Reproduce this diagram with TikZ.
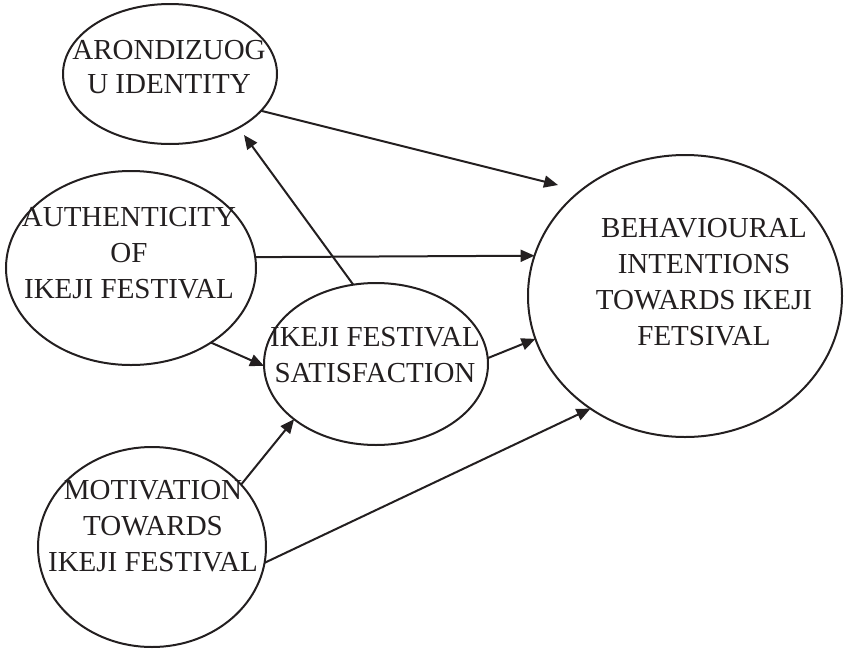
\documentclass[tikz,border=0pt]{standalone}
\usepackage{fontspec}
\setmainfont{Liberation Serif}
\usetikzlibrary{arrows.meta,shapes.geometric}
\definecolor{ink}{RGB}{35,31,32}
\begin{document}
\begin{tikzpicture}[x=1pt,y=-1pt,
  oval/.style={draw=ink, line width=2pt, ellipse, inner sep=0pt, outer sep=0pt},
  lbl/.style={text=ink, align=center, inner sep=0pt, font=\fontsize{29}{36}\selectfont},
  arr/.style={draw=ink, line width=2pt, -{Triangle[length=14pt,width=12pt]}}]
\useasboundingbox (0,0) rectangle (846,648);
% ellipses
\node[oval, minimum width=214pt, minimum height=140pt] (aro) at (170,74) {};
\node[oval, minimum width=250pt, minimum height=194pt] (auth) at (131,268) {};
\node[oval, minimum width=224pt, minimum height=162pt] (sat) at (376,364) {};
\node[oval, minimum width=228pt, minimum height=200pt] (mot) at (152,547) {};
\node[oval, minimum width=314pt, minimum height=282pt] (beh) at (685,296) {};
% labels
\node[lbl, font=\fontsize{29}{34.7}\selectfont] (aroT) at (169,67) {ARONDIZUOG\\U IDENTITY};
\node[lbl] (authT) at (129,253) {AUTHENTICITY\\OF\\IKEJI FESTIVAL};
\node[lbl] (satT) at (375,355) {IKEJI FESTIVAL\\SATISFACTION};
\node[lbl] (motT) at (153,526) {MOTIVATION\\TOWARDS\\IKEJI FESTIVAL};
\node[lbl] (behT) at (704,282) {BEHAVIOURAL\\INTENTIONS\\TOWARDS IKEJI\\FETSIVAL};
% free ends
\coordinate (e1) at (558,185);
\coordinate (e3) at (244,135);
% connectors
\draw[arr] (aro.-22.4) -- (e1);
\draw[arr] (auth.5.1) -- (beh.165.5);
\draw[arr] (sat.106) -- (e3);
\draw[arr] (auth.-43.5) -- (sat.181);
\draw[arr] (mot.35.8) -- (sat.-146.5);
\draw[arr] (sat.3.6) -- (beh.-164);
\draw[arr] (mot.-8) -- (beh.-130.9);
\end{tikzpicture}
\end{document}
